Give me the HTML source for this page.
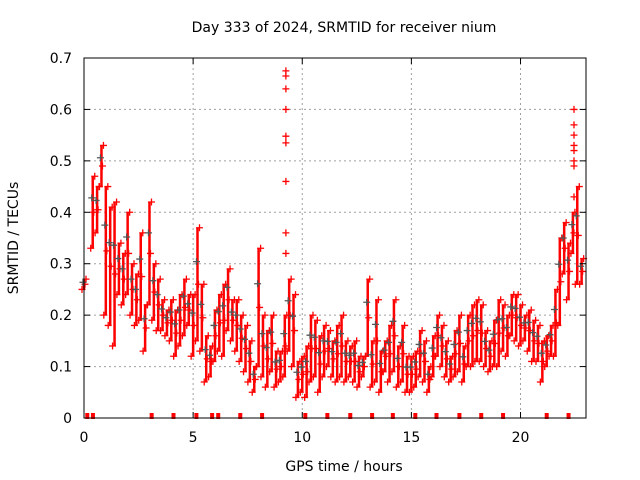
<!DOCTYPE html>
<html><head><meta charset="utf-8"><style>
body{margin:0;background:#fff;}
svg{display:block;font-family:"DejaVu Sans","Liberation Sans",sans-serif;}
</style></head><body>
<svg id="chart" width="640" height="480" viewBox="0 0 640 480">
<rect width="640" height="480" fill="#fff"/>
<text x="344" y="32" font-size="14" text-anchor="middle">Day 333 of 2024, SRMTID for receiver nium</text>
<text x="344" y="471" font-size="14" text-anchor="middle">GPS time / hours</text>
<text transform="translate(18,238) rotate(-90)" font-size="14" text-anchor="middle">SRMTID / TECUs</text>
<g id="grid"></g>
<g id="marks"></g>
<g id="gaps"></g>
<rect x="84" y="58" width="502" height="360" fill="none" stroke="#000" stroke-width="1"/>
<g id="axes"></g>
</svg>
<script>
const xTicks=[0,5,10,15,20];
const yTicks=[0,0.1,0.2,0.3,0.4,0.5,0.6,0.7];
const yTickLabels=["0","0.1","0.2","0.3","0.4","0.5","0.6","0.7"];
const times=[0.0,0.4,0.6,0.8,1.0,1.2,1.4,1.6,1.8,2.0,2.2,2.4,2.6,2.8,3.0,3.2,3.4,3.6,3.8,4.0,4.2,4.4,4.6,4.8,5.0,5.2,5.4,5.6,5.8,6.0,6.2,6.4,6.6,6.8,7.0,7.2,7.4,7.6,7.8,8.0,8.2,8.4,8.6,8.8,9.0,9.2,9.4,9.6,9.8,10.0,10.2,10.4,10.6,10.8,11.0,11.2,11.4,11.6,11.8,12.0,12.2,12.4,12.6,12.8,13.0,13.2,13.4,13.6,13.8,14.0,14.2,14.4,14.6,14.8,15.0,15.2,15.4,15.6,15.8,16.0,16.2,16.4,16.6,16.8,17.0,17.2,17.4,17.6,17.8,18.0,18.2,18.4,18.6,18.8,19.0,19.2,19.4,19.6,19.8,20.0,20.2,20.4,20.6,20.8,21.0,21.2,21.4,21.6,21.8,22.0,22.2,22.4,22.6,22.8];
const lowVals=[0.25,0.33,0.36,0.45,0.20,0.18,0.14,0.24,0.22,0.24,0.20,0.18,0.19,0.13,0.22,0.19,0.17,0.17,0.16,0.15,0.12,0.14,0.16,0.18,0.12,0.15,0.13,0.07,0.08,0.11,0.13,0.12,0.17,0.15,0.13,0.11,0.09,0.07,0.05,0.10,0.08,0.06,0.09,0.06,0.07,0.08,0.13,0.10,0.04,0.05,0.04,0.07,0.08,0.05,0.08,0.10,0.08,0.07,0.08,0.07,0.08,0.07,0.06,0.08,0.12,0.06,0.07,0.05,0.09,0.07,0.09,0.06,0.07,0.05,0.05,0.06,0.08,0.07,0.05,0.08,0.12,0.10,0.08,0.07,0.08,0.09,0.07,0.10,0.10,0.11,0.11,0.10,0.09,0.10,0.10,0.13,0.12,0.16,0.15,0.14,0.15,0.13,0.11,0.11,0.07,0.10,0.12,0.12,0.18,0.28,0.23,0.32,0.26,0.26];
const highVals=[0.27,0.47,0.45,0.53,0.45,0.41,0.42,0.34,0.32,0.40,0.30,0.28,0.36,0.22,0.42,0.30,0.27,0.23,0.21,0.23,0.21,0.24,0.27,0.24,0.24,0.37,0.26,0.16,0.14,0.21,0.24,0.26,0.29,0.23,0.23,0.20,0.18,0.15,0.10,0.33,0.20,0.17,0.20,0.13,0.13,0.20,0.27,0.24,0.11,0.12,0.14,0.20,0.19,0.16,0.18,0.17,0.15,0.18,0.20,0.15,0.14,0.15,0.12,0.12,0.27,0.15,0.23,0.13,0.15,0.18,0.23,0.14,0.18,0.12,0.12,0.13,0.17,0.15,0.10,0.16,0.20,0.18,0.15,0.12,0.17,0.20,0.14,0.20,0.22,0.23,0.22,0.17,0.15,0.19,0.23,0.22,0.20,0.24,0.24,0.22,0.20,0.21,0.19,0.18,0.15,0.16,0.18,0.25,0.35,0.38,0.34,0.40,0.45,0.31];
const spikeTimes=[9.25,9.25,9.25,9.25,9.25,9.25,9.25,9.25,9.25,22.45,22.45,22.45,22.45,22.45,22.45,22.45,22.45];
const spikeVals=[0.675,0.665,0.64,0.60,0.548,0.535,0.46,0.36,0.32,0.60,0.57,0.55,0.53,0.52,0.50,0.49,0.43];
const gapTimes=[0.15,0.41,3.1,4.1,5.15,5.87,6.15,7.16,8.16,10.14,11.15,12.2,13.2,14.15,15.18,16.15,17.2,18.2,19.2,21.2,22.2];
const NS="http://www.w3.org/2000/svg";
const X=v=>84+v*(502/23);
const Y=v=>418-v*(360/0.7);
function mk(tag,attrs,parent){const e=document.createElementNS(NS,tag);for(const k in attrs)e.setAttribute(k,attrs[k]);parent.appendChild(e);return e;}
const grid=document.getElementById('grid'),axes=document.getElementById('axes'),marks=document.getElementById('marks'),gaps=document.getElementById('gaps');
yTicks.forEach((v,i)=>{
  if(i>0&&i<yTicks.length-1){const g=mk('line',{x1:84,x2:586,y1:Y(v),y2:Y(v),stroke:'#a0a0a0','stroke-dasharray':'2,3'},grid);
  
  }
  const t=mk('text',{x:72,y:Y(v)+5,'font-size':14,'text-anchor':'end'},axes);t.textContent=yTickLabels[i];
  
  
  mk('line',{x1:84,x2:90,y1:Y(v),y2:Y(v),stroke:'#000'},axes);
  mk('line',{x1:580,x2:586,y1:Y(v),y2:Y(v),stroke:'#000'},axes);
});
xTicks.forEach(v=>{
  if(v>0){const g=mk('line',{x1:X(v),x2:X(v),y1:58,y2:418,stroke:'#a0a0a0','stroke-dasharray':'2,3'},grid);
  
  }
  const t=mk('text',{x:X(v),y:442,'font-size':14,'text-anchor':'middle'},axes);t.textContent=String(v);
  
  
  mk('line',{x1:X(v),x2:X(v),y1:418,y2:412,stroke:'#000'},axes);
  mk('line',{x1:X(v),x2:X(v),y1:58,y2:64,stroke:'#000'},axes);
});
function plus(x,y,c){mk('path',{d:`M${x-3.5},${y}h7M${x},${y-3.5}v7`,stroke:c,'stroke-width':1.3,fill:'none'},marks);}
times.forEach((t,i)=>{
  const x=X(t),yl=Y(lowVals[i]),yh=Y(highVals[i]);
  const s=mk('line',{x1:x,x2:x,y1:yl,y2:yh,stroke:'#f00','stroke-width':2.5},marks);
  
  
  plus(x-2,yl,'#f00');plus(x+2,yh,'#f00');plus(x+1,(yl+yh)/2,'#f00');plus(x-1,(yl*0.3+yh*0.7),'#555');
});
spikeTimes.forEach((t,i)=>{plus(X(t),Y(spikeVals[i]),'#f00');});
gapTimes.forEach(t=>{
  const r=mk('rect',{x:X(t)-2,y:413,width:4,height:6,fill:'#f00'},gaps);
  
  
});
</script>
</body></html>
